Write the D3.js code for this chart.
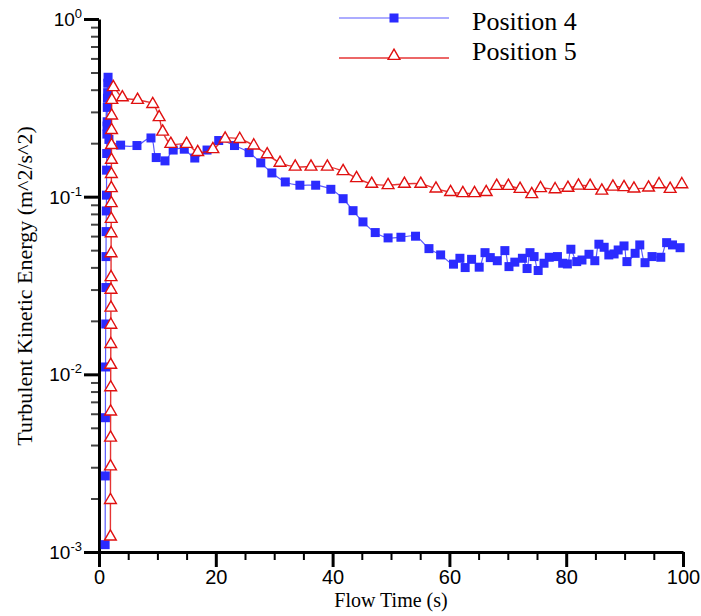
<!DOCTYPE html>
<html>
<head>
<meta charset="utf-8">
<script src="https://cdn.jsdelivr.net/npm/d3@7"></script>
<style>
  body { margin: 0; background: #fff; }
  svg { display: block; }
</style>
</head>
<body>
<svg id="chart" width="701" height="616"></svg>
<script>
// Turbulent kinetic energy history at two monitor positions

const pos4Time = [
  1.05, 1.08, 1.1, 1.12, 1.15, 1.18, 1.2, 1.22, 1.25, 1.28, 1.3, 1.32, 1.35,
  1.38, 1.4, 1.42, 1.45, 1.48, 1.5, 1.55, 1.7,
  3.7, 6.5, 8.9, 9.8, 11.3, 12.7, 14.6, 16.4, 18.5, 20.5, 23.2, 25.7, 27.7,
  29.6, 31.9, 34.4, 37.1, 39.7, 41.8, 43.5, 45.2, 47.3, 49.5, 51.7, 54.2,
  56.5, 58.5, 60.7, 61.8, 62.7, 63.8, 65.1, 66.1, 67.0, 68.2, 69.5, 70.2,
  71.2, 72.5, 73.3, 73.8, 74.5, 75.2, 76.2, 77.1, 78.5, 79.4, 80.2, 80.8,
  81.8, 82.7, 83.9, 84.9, 85.6, 86.5, 87.3, 88.2, 88.9, 89.9, 90.4, 91.8,
  92.6, 93.5, 94.7, 96.2, 97.2, 98.2, 99.5
];
const pos4Tke = [
  0.0011, 0.00268, 0.0057, 0.011, 0.0192, 0.0308, 0.046, 0.0636, 0.0831,
  0.102, 0.141, 0.175, 0.225, 0.25, 0.264, 0.318, 0.358, 0.385, 0.435, 0.47, 0.21,
  0.195, 0.194, 0.214, 0.166, 0.159, 0.183, 0.185, 0.165, 0.183, 0.207, 0.194,
  0.177, 0.155, 0.136, 0.121, 0.116, 0.116, 0.110, 0.0974, 0.0834, 0.0721,
  0.0628, 0.0586, 0.0591, 0.0599,
  0.051, 0.047, 0.0417, 0.045, 0.0399, 0.0444, 0.0401, 0.0484, 0.0454, 0.0436,
  0.0497, 0.0404, 0.0428, 0.045, 0.0394, 0.0484, 0.046, 0.0384, 0.0422, 0.0456,
  0.046, 0.0422, 0.0418, 0.0506, 0.0431, 0.044, 0.0474, 0.0436, 0.054, 0.0519,
  0.047, 0.0476, 0.0501, 0.0528, 0.0431, 0.048, 0.0535, 0.0425, 0.046, 0.0456,
  0.0551, 0.0535, 0.0516
];

const pos5Time = [
  1.95, 1.96, 1.97, 1.98, 1.99, 2.0, 2.01, 2.02, 2.03, 2.04, 2.05, 2.06, 2.07,
  2.08, 2.09, 2.1, 2.11, 2.12, 2.13, 2.14, 2.15, 2.16, 2.2, 2.45,
  4.0, 6.6, 9.2, 10.3, 10.9, 12.3, 15.0, 16.9, 19.5, 21.6, 24.1, 26.5, 28.8,
  31.0, 33.6, 36.3, 39.1, 41.8, 44.1, 46.7, 49.5, 52.3, 55.1, 57.7, 60.2,
  62.3, 64.3, 66.3, 68.1, 70.1, 72.1, 74.1, 75.6, 78.1, 80.3, 82.1, 84.1,
  86.1, 88.0, 89.9, 91.6, 94.1, 95.9, 97.8, 99.8
];
const pos5Tke = [
  0.00122, 0.00196, 0.00303, 0.0044, 0.00617, 0.00845, 0.0113, 0.0148, 0.019,
  0.0237, 0.0299, 0.0352, 0.048, 0.0622, 0.0749, 0.0918, 0.1115, 0.134, 0.161,
  0.195, 0.237, 0.286, 0.35, 0.413,
  0.362, 0.35, 0.332, 0.28, 0.232, 0.198, 0.198, 0.178, 0.185, 0.212, 0.211,
  0.194, 0.173, 0.155, 0.1475, 0.1475, 0.1475, 0.139, 0.127, 0.118, 0.116,
  0.118, 0.118, 0.111, 0.106, 0.1045, 0.1045, 0.106, 0.1148, 0.1148, 0.1105,
  0.1032, 0.1115, 0.110, 0.112, 0.1153, 0.1148, 0.108, 0.1138, 0.113, 0.111,
  0.1124, 0.1174, 0.1105, 0.1174
];

const seriesNames = ["Position 4", "Position 5"];
const xMajorTicks = [0, 20, 40, 60, 80, 100];
const xMinorTicks = [5, 10, 15, 25, 30, 35, 45, 50, 55, 65, 70, 75, 85, 90, 95];
const yDecades = [0.001, 0.01, 0.1, 1];
const yExponents = ["-3", "-2", "-1", "0"];
const yMinorTicks = [2, 3, 4, 5, 6, 7, 8, 9].flatMap(m => [0.001, 0.01, 0.1].map(d => m * d));
const xTitle = "Flow Time (s)";
const yTitle = "Turbulent Kinetic Energy (m^2/s^2)";

const svg = d3.select("#chart");
const x = d3.scaleLinear().domain([0, 100]).range([99, 683]);
const y = d3.scaleLog().domain([0.001, 1]).range([552, 19]);

const blue = "#2b2bff";
const blueLine = "#5a5aff";
const red = "#e01010";

// axes
const xMinor = svg.append("g").attr("transform", "translate(0,552)")
  .call(d3.axisBottom(x).tickValues(xMinorTicks).tickSize(8).tickFormat(""));
xMinor.select(".domain").remove();
xMinor.selectAll("line").attr("stroke", "#000").attr("stroke-width", 2);

const xMajor = svg.append("g").attr("transform", "translate(0,552)")
  .call(d3.axisBottom(x).tickValues(xMajorTicks).tickSize(15).tickSizeOuter(0).tickPadding(3));
xMajor.select(".domain").attr("stroke", "#000").attr("stroke-width", 3);
xMajor.selectAll("line").attr("stroke", "#000").attr("stroke-width", 3);
xMajor.selectAll("text").attr("font-family", "Liberation Sans, Arial, sans-serif")
  .attr("font-size", 20).attr("fill", "#000");

const yMinor = svg.append("g").attr("transform", "translate(99,0)")
  .call(d3.axisLeft(y).tickValues(yMinorTicks).tickSize(8).tickFormat(""));
yMinor.select(".domain").remove();
yMinor.selectAll("line").attr("stroke", "#444").attr("stroke-width", 2);

const yMajor = svg.append("g").attr("transform", "translate(99,0)")
  .call(d3.axisLeft(y).tickValues(yDecades).tickSize(15).tickSizeOuter(0).tickFormat(""));
yMajor.select(".domain").attr("stroke", "#000").attr("stroke-width", 3);
yMajor.selectAll("line").attr("stroke", "#000").attr("stroke-width", 3);

// decade labels as 10 with superscript exponent
const yLab = svg.append("g")
  .attr("font-family", "Liberation Sans, Arial, sans-serif").attr("fill", "#000");
yDecades.forEach((d, i) => {
  const t = yLab.append("text")
    .attr("x", 82).attr("y", y(d) + 7).attr("text-anchor", "end").attr("font-size", 19);
  t.append("tspan").text("10");
  t.append("tspan").attr("font-size", 13).attr("dy", -8).text(yExponents[i]);
});

// axis titles
svg.append("text")
  .attr("x", 391).attr("y", 607).attr("text-anchor", "middle")
  .attr("font-family", "Liberation Serif, Times New Roman, serif").attr("font-size", 20)
  .text(xTitle);
svg.append("text")
  .attr("transform", "translate(32,286) rotate(-90)").attr("text-anchor", "middle")
  .attr("font-family", "Liberation Serif, Times New Roman, serif").attr("font-size", 22)
  .text(yTitle);

// series
const pos4 = pos4Time.map((t, i) => ({ t, k: pos4Tke[i] }));
const pos5 = pos5Time.map((t, i) => ({ t, k: pos5Tke[i] }));
const line = d3.line().x(d => x(d.t)).y(d => y(d.k)).curve(d3.curveCatmullRom.alpha(0.5));

svg.append("path").datum(pos4).attr("d", line)
  .attr("fill", "none").attr("stroke", blueLine).attr("stroke-width", 1.2);
svg.append("g").selectAll("rect").data(pos4).join("rect")
  .attr("x", d => x(d.t) - 4.5).attr("y", d => y(d.k) - 4.5)
  .attr("width", 9).attr("height", 9).attr("fill", blue);

svg.append("path").datum(pos5).attr("d", line)
  .attr("fill", "none").attr("stroke", red).attr("stroke-width", 1.4).attr("stroke-opacity", 0.85);
const tri = d3.symbol().type(d3.symbolTriangle).size(60);
svg.append("g").selectAll("path").data(pos5).join("path")
  .attr("d", tri)
  .attr("transform", d => `translate(${x(d.t)},${y(d.k)})`)
  .attr("fill", "#fff").attr("stroke", red).attr("stroke-width", 1.4);

// legend
const leg = svg.append("g");
leg.append("line").attr("x1", 339).attr("x2", 449).attr("y1", 18).attr("y2", 18)
  .attr("stroke", blueLine).attr("stroke-width", 1.2);
leg.append("rect").attr("x", 394 - 4.5).attr("y", 18 - 4.5).attr("width", 9).attr("height", 9)
  .attr("fill", blue);
leg.append("line").attr("x1", 339).attr("x2", 449).attr("y1", 58).attr("y2", 58)
  .attr("stroke", red).attr("stroke-width", 1.4).attr("stroke-opacity", 0.85);
leg.append("path").attr("d", tri).attr("transform", "translate(394,56)")
  .attr("fill", "#fff").attr("stroke", red).attr("stroke-width", 1.4);
leg.selectAll("text.name").data(seriesNames).join("text")
  .attr("class", "name")
  .attr("x", 472).attr("y", (d, i) => i === 0 ? 30 : 60)
  .attr("font-family", "Liberation Serif, Times New Roman, serif").attr("font-size", 26)
  .text(d => d);
</script>
</body>
</html>
